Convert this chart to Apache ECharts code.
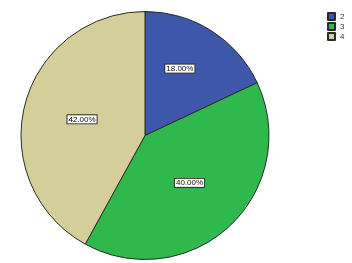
<!DOCTYPE html>
<html><head><meta charset="utf-8">
<script src="https://cdn.jsdelivr.net/npm/echarts@6/dist/echarts.min.js"></script>
<style>html,body{margin:0;padding:0;background:#fff}#c{width:352px;height:263px}</style>
</head><body><div id="c"></div>
<script>
const categories = ['2', '3', '4'];
const values = [18, 40, 42];
const colors = ['#3d57ab', '#2fb84b', '#d4ce9a'];

const chart = echarts.init(document.getElementById('c'), null, {renderer: 'canvas'});
chart.setOption({
  animation: false,
  color: colors,
  legend: {
    orient: 'vertical',
    left: 322, top: 7,
    itemWidth: 7, itemHeight: 7, itemGap: 1,
    icon: 'rect',
    textStyle: {fontSize: 8, color: '#333', fontFamily: 'Liberation Sans'},
    data: categories
  },
  series: [{
    type: 'pie',
    center: [145, 135.5],
    radius: [0, 124],
    startAngle: 90,
    clockwise: true,
    data: categories.map((c, i) => ({
      name: c, value: values[i],
      label: i === 0 ? {offset: [0, -12]} : undefined
    })),
    itemStyle: {borderColor: '#2a2a2a', borderWidth: 1},
    label: {
      show: true,
      position: 'inside',
      formatter: p => p.value.toFixed(2) + '%',
      fontSize: 8,
      fontFamily: 'Liberation Sans',
      color: '#111',
      backgroundColor: '#fff',
      borderColor: '#333',
      borderWidth: 1,
      padding: [0, 1]
    },
    labelLine: {show: false},
    emphasis: {disabled: true}
  }]
});
</script></body></html>
